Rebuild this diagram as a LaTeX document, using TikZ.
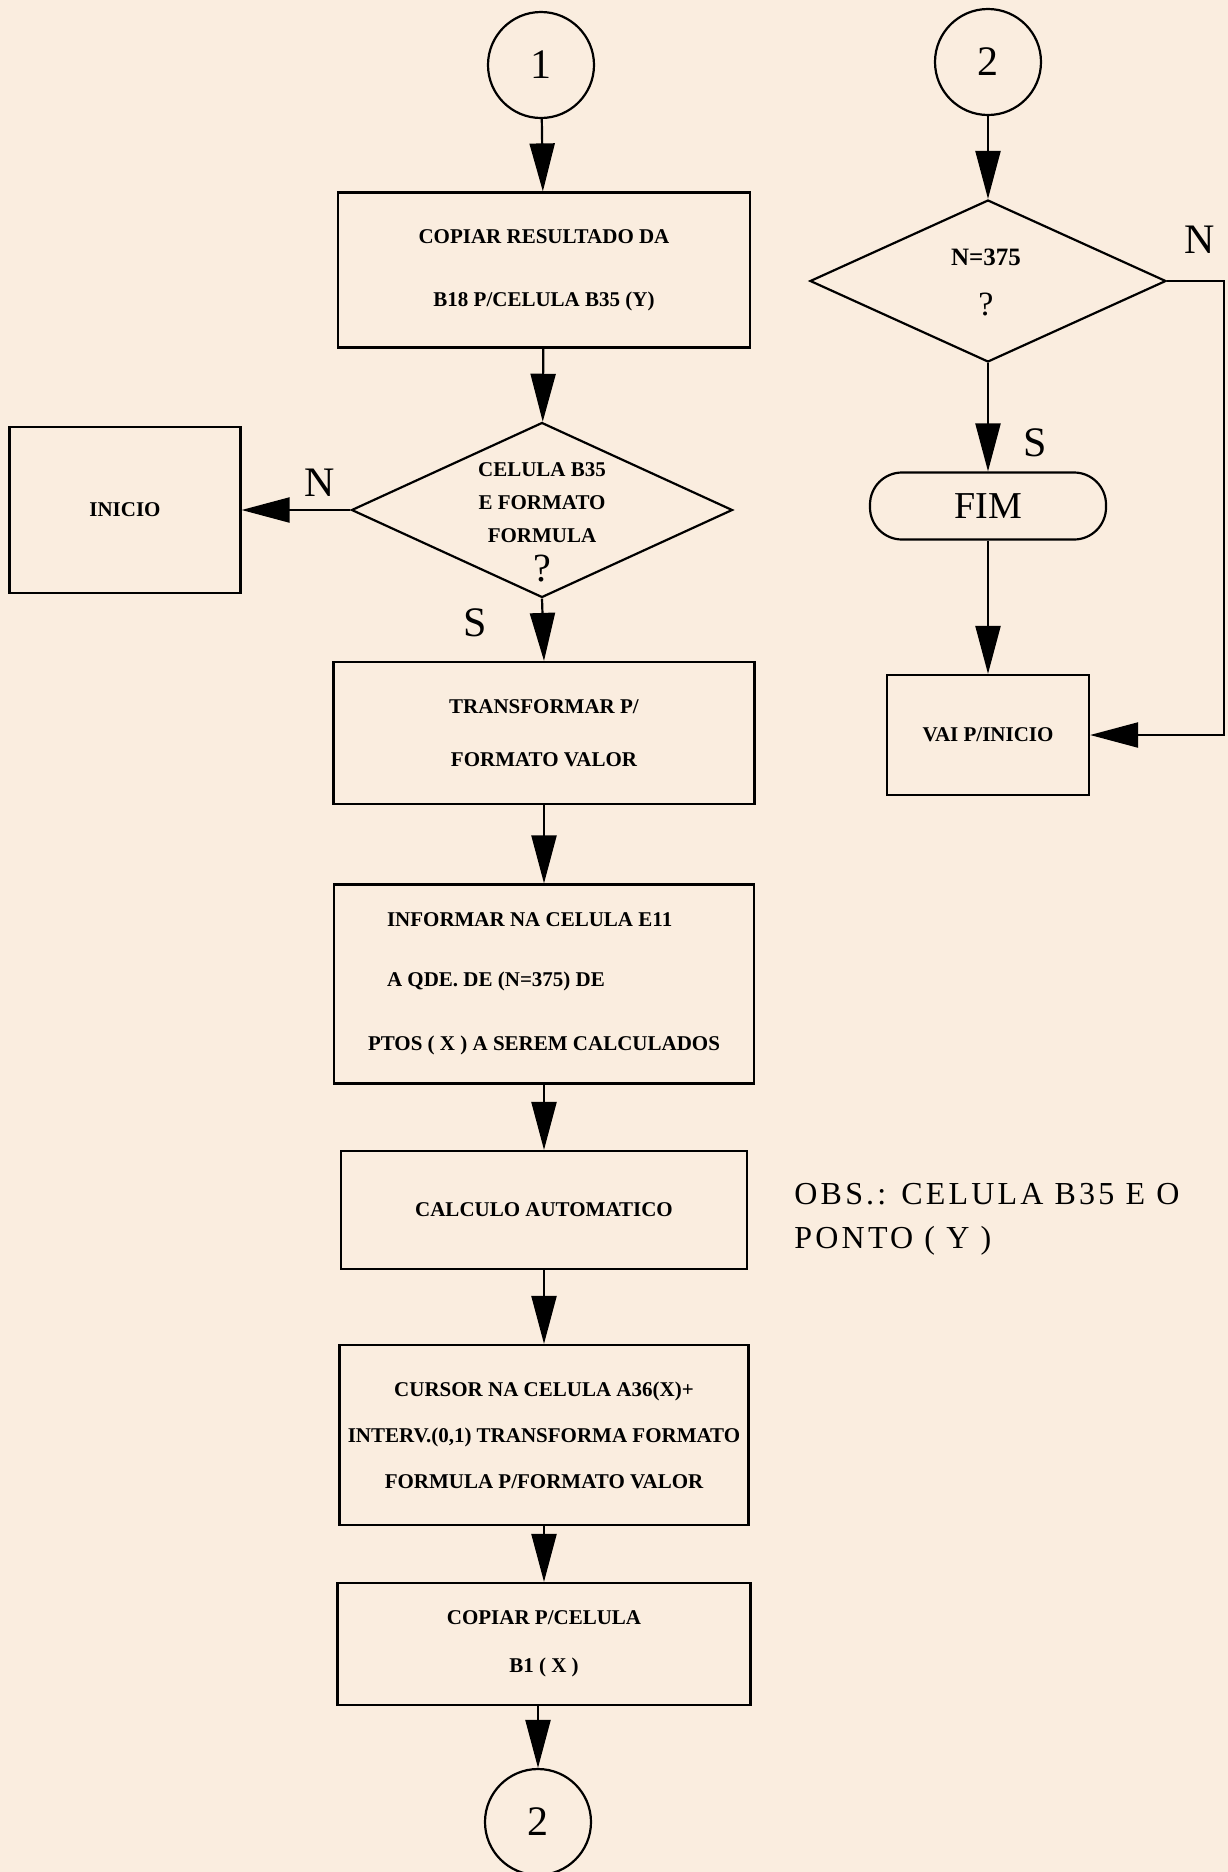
\documentclass[tikz,border=0pt]{standalone}
\usepackage{fontspec}
\setmainfont{Liberation Serif}
\newfontfamily\obsfont{Liberation Serif}[LetterSpace=10]
\usetikzlibrary{shapes.geometric,arrows.meta}
\definecolor{paper}{RGB}{250,237,223}
\newcommand{\boxfont}{\fontsize{21}{25}\selectfont\bfseries}
\newcommand{\bigfont}{\fontsize{42}{50}\selectfont}

\begin{document}
\begin{tikzpicture}[x=1pt,y=-1pt,line width=2.2pt,
	flow/.style={-{Triangle[length=48pt,width=25pt]}},
	proc/.style={draw,rectangle,inner sep=0pt,align=center,font=\boxfont},
	decision/.style={draw,diamond,aspect=2.2,inner sep=0pt},
	connector/.style={draw,circle,minimum size=106pt,inner sep=0pt,font=\bigfont},
	terminal/.style={draw,rectangle,rounded corners=32pt,minimum width=236pt,minimum height=67pt,font=\fontsize{38}{44}\selectfont},
	answer/.style={font=\bigfont},
	qtext/.style={align=center,font=\boxfont,inner sep=0pt}]
	\fill[paper] (0,0) rectangle (1228,1872);
	\useasboundingbox (0,0) rectangle (1228,1872);

	% main column
	\node[connector] (c1) at (541,65) {1};
	\node[proc,minimum width=412pt,minimum height=155pt] (copyres) at (544,270)
		{COPIAR RESULTADO DA\\[38pt]B18 P/CELULA B35 (Y)};
	\node[decision,minimum width=381pt,minimum height=175pt] (isform) at (542,510) {};
	\node[qtext] (isformtxt) at (542,522)
		{CELULA B35\\[8pt]E FORMATO\\[8pt]FORMULA\\[11pt]{\fontsize{40}{40}\selectfont\mdseries ?}};
	\node[proc,minimum width=231pt,minimum height=166pt] (inicio) at (125,510) {INICIO};
	\node[answer] (no1) at (320,483) {N};
	\node[answer] (yes1) at (475,623) {S};
	\node[proc,minimum width=421pt,minimum height=142pt] (tovalue) at (544,733)
		{TRANSFORMAR P/\\[28pt]FORMATO VALOR};
	\node[proc,minimum width=420pt,minimum height=199pt,align=left] (inform) at (544,984)
		{\hspace*{19pt}INFORMAR NA CELULA E11\\[35pt]\hspace*{19pt}A QDE. DE (N=375) DE\\[39pt]PTOS ( X ) A SEREM CALCULADOS};
	\node[proc,minimum width=406pt,minimum height=118pt] (calc) at (544,1210) {CALCULO AUTOMATICO};
	\node[proc,minimum width=409pt,minimum height=180pt] (cursor) at (544,1435)
		{CURSOR NA CELULA A36(X)+\\[21pt]INTERV.(0,1) TRANSFORMA FORMATO\\[21pt]FORMULA P/FORMATO VALOR};
	\node[proc,minimum width=413pt,minimum height=122pt] (copyb) at (544,1644)
		{COPIAR P/CELULA\\[23pt]B1 ( X )};
	\node[connector] (c2b) at (538,1822) {2};
	\node[anchor=west,align=left,font=\obsfont\fontsize{32}{44}\selectfont] (obs) at (790,1219)
		{OBS.: CELULA B35 E O\\PONTO ( Y )};

	% right column
	\node[connector] (c2) at (988,62) {2};
	\node[decision,minimum width=356pt,minimum height=162pt] (count) at (988,281) {};
	\node[qtext] (counttxt) at (986,282)
		{{\fontsize{25}{30}\selectfont N=375}\\[25pt]{\fontsize{34}{34}\selectfont\mdseries ?}};
	\node[answer] (no2) at (1200,240) {N};
	\node[answer] (yes2) at (1035,443) {S};
	\node[terminal] (fim) at (988,506) {FIM};
	\node[proc,minimum width=202pt,minimum height=120pt] (back) at (988,735) {VAI P/INICIO};
	\coordinate (edge) at (1224,0);

	% connectors
	\draw[flow] (c1) -- (copyres);
	\draw[flow] (copyres) -- (isform);
	\draw[flow] (isform.west) -- (inicio.east);
	\draw[flow] (isform.south) -- (tovalue.north);
	\draw[flow] (tovalue) -- (inform);
	\draw[flow] (inform) -- (calc);
	\draw[flow] (calc) -- (cursor);
	\draw[flow] (cursor) -- (copyb);
	\draw[flow] (copyb.south -| c2b) -- (c2b.north);
	\draw[flow] (c2) -- (count);
	\draw[flow] (count.south) -- (fim.north);
	\draw[flow] (fim.south) -- (back.north);
	\draw[flow] (count.east) -- (count.east -| edge) |- (back.east);
\end{tikzpicture}
\end{document}
